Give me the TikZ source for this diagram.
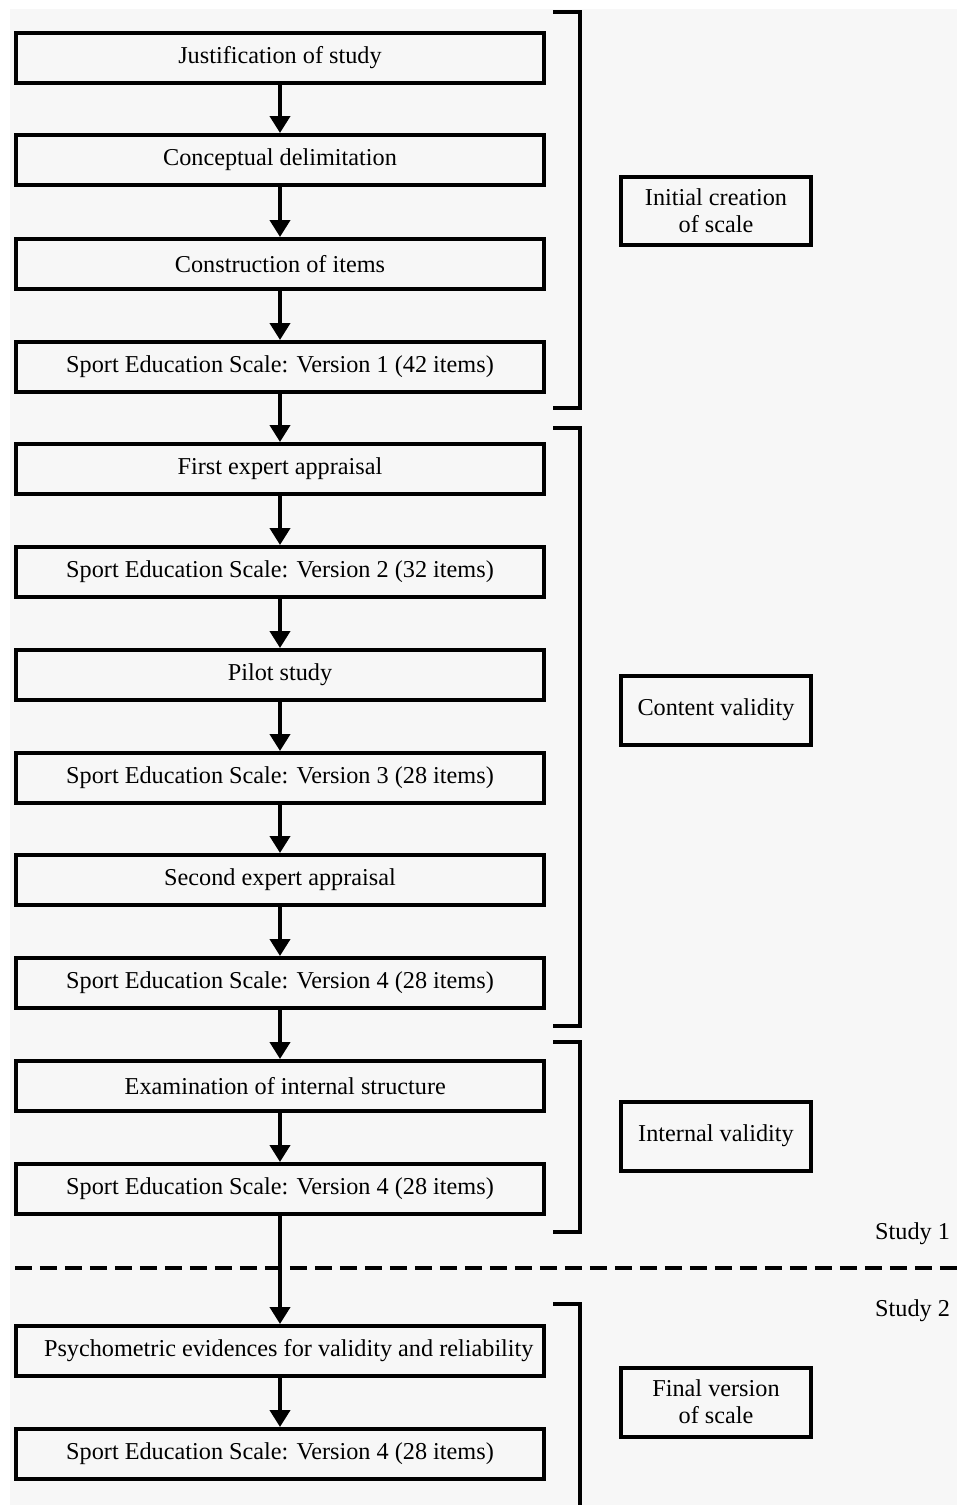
\documentclass[tikz,border=0pt]{standalone}
\usepackage{fontspec}
\setmainfont{Liberation Serif}
\usetikzlibrary{arrows.meta}
\begin{document}
\begin{tikzpicture}[x=0.02cm, y=-0.02cm, >={Triangle[width=0.4cm,length=0.34cm]}, line width=0.08cm, font=\fontsize{13.8}{15.4}\selectfont,
    stage/.style={draw, minimum width=10.58cm, minimum height=1cm, inner sep=0pt},
    phase/.style={draw, minimum width=3.82cm, minimum height=1.38cm, align=center, inner sep=0pt}]
    \useasboundingbox (0,0) rectangle (957,1505);
    \fill[white] (0,0) rectangle (957,1505);
    \fill[black!3] (10,9) rectangle (957,1505);
    % steps
    \node[stage] (s1) at (280,58) {Justification of study};
    \node[stage] (s2) at (280,160) {Conceptual delimitation};
    \node[stage] (s3) at (280,264) {Construction of items};
    \node[stage] (s4) at (280,367) {Sport Education Scale: Version 1 (42 items)};
    \node[stage] (s5) at (280,469) {First expert appraisal};
    \node[stage] (s6) at (280,572) {Sport Education Scale: Version 2 (32 items)};
    \node[stage] (s7) at (280,675) {Pilot study};
    \node[stage] (s8) at (280,778) {Sport Education Scale: Version 3 (28 items)};
    \node[stage] (s9) at (280,880) {Second expert appraisal};
    \node[stage] (s10) at (280,983) {Sport Education Scale: Version 4 (28 items)};
    \node[stage] (s11) at (280,1086) {\hspace*{6pt}Examination of internal structure};
    \node[stage] (s12) at (280,1189) {Sport Education Scale: Version 4 (28 items)};
    \node[stage] (s13) at (280,1351) {\hspace*{10pt}Psychometric evidences for validity and reliability};
    \node[stage] (s14) at (280,1454) {Sport Education Scale: Version 4 (28 items)};
    % study split
    \draw[dash pattern=on 0.34cm off 0.16cm] (15,1268) -- (957,1268);
    \node[anchor=east, inner sep=0pt] (st1) at (952,1234) {Study 1};
    \node[anchor=east, inner sep=0pt] (st2) at (952,1311) {Study 2};
    \foreach \a/\b in {s1/s2,s2/s3,s3/s4,s4/s5,s5/s6,s6/s7,s7/s8,s8/s9,s9/s10,s10/s11,s11/s12,s12/s13,s13/s14}
        \draw[->] (\a) -- (\b);
    % brackets
    \draw (553,12) -| (580,408) -- (553,408);
    \draw (553,428) -| (580,1026) -- (553,1026);
    \draw (553,1042) -| (580,1232) -- (553,1232);
    \draw (553,1304) -| (580,1510);
    % phases
    \node[phase] (p1) at (716,211) {Initial creation\\of scale};
    \node[phase] (p2) at (716,710) {Content validity};
    \node[phase] (p3) at (716,1136) {Internal validity};
    \node[phase] (p4) at (716,1402) {Final version\\of scale};
\end{tikzpicture}
\end{document}
